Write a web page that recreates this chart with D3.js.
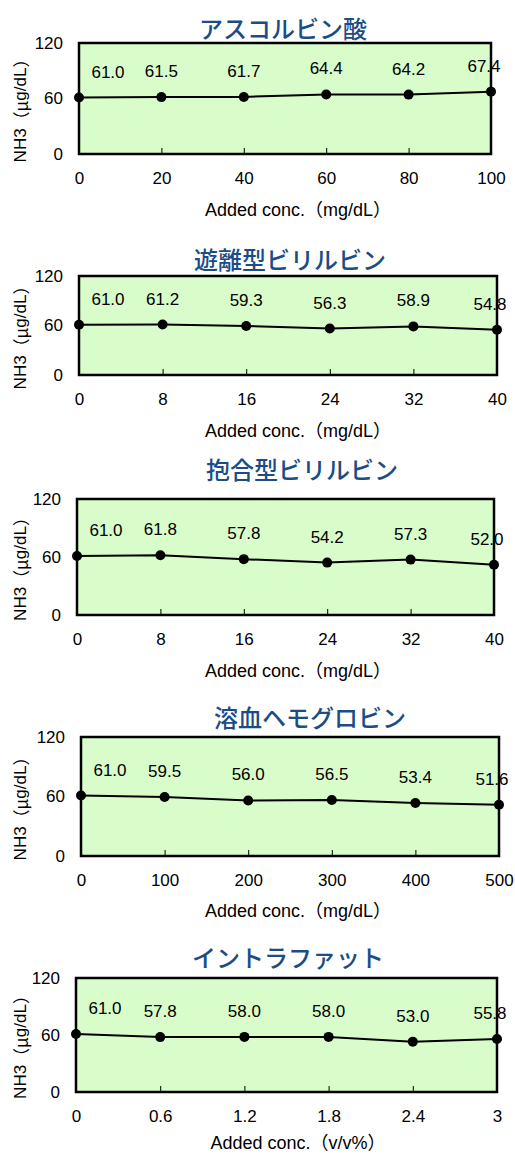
<!DOCTYPE html>
<html>
<head>
<meta charset="utf-8">
<script src="https://cdn.jsdelivr.net/npm/d3@7"></script>
<style>
  html, body { margin: 0; padding: 0; background: #ffffff; }
  svg { display: block; }
  text { font-family: "Liberation Sans", Arial, "Noto Sans CJK JP", sans-serif; }
  .ttl { font-family: "Noto Sans CJK JP", sans-serif; font-weight: 500; }
  .cjk { font-family: "Noto Sans CJK JP", sans-serif; }
</style>
</head>
<body>
<script>
// Interference study: NH3 recovery with added interferents
const titles = ["アスコルビン酸", "遊離型ビリルビン", "抱合型ビリルビン", "溶血ヘモグロビン", "イントラファット"];
const xTitles = ["Added conc.（mg/dL）", "Added conc.（mg/dL）", "Added conc.（mg/dL）", "Added conc.（mg/dL）", "Added conc.（v/v%）"];
const yTitleParts = ["NH3", "（μ", "g/dL", "）"];

const xAscorbic = [0, 20, 40, 60, 80, 100];
const yAscorbic = [61.0, 61.5, 61.7, 64.4, 64.2, 67.4];
const xFreeBili = [0, 8, 16, 24, 32, 40];
const yFreeBili = [61.0, 61.2, 59.3, 56.3, 58.9, 54.8];
const xConjBili = [0, 8, 16, 24, 32, 40];
const yConjBili = [61.0, 61.8, 57.8, 54.2, 57.3, 52.0];
const xHemo = [0, 100, 200, 300, 400, 500];
const yHemo = [61.0, 59.5, 56.0, 56.5, 53.4, 51.6];
const xFat = [0, 0.6, 1.2, 1.8, 2.4, 3];
const yFat = [61.0, 57.8, 58.0, 58.0, 53.0, 55.8];

const xTickLabels = [
  ["0", "20", "40", "60", "80", "100"],
  ["0", "8", "16", "24", "32", "40"],
  ["0", "8", "16", "24", "32", "40"],
  ["0", "100", "200", "300", "400", "500"],
  ["0", "0.6", "1.2", "1.8", "2.4", "3"]
];
const yTicks = [0, 60, 120];
const yMax = 120;

const xs = [xAscorbic, xFreeBili, xConjBili, xHemo, xFat];
const ys = [yAscorbic, yFreeBili, yConjBili, yHemo, yFat];

// panel frames: plot box edges, title position, x-title offset
const frames = [
  { l: 79, r: 491, t: 43,  b: 154, tx: 283, ty: 27,  xo: 56 },
  { l: 79, r: 497, t: 276, b: 375, tx: 290, ty: 258, xo: 56 },
  { l: 77, r: 494, t: 499, b: 615, tx: 302, ty: 468, xo: 56 },
  { l: 81, r: 499, t: 737, b: 856, tx: 310, ty: 716, xo: 55 },
  { l: 76, r: 497, t: 978, b: 1092, tx: 288, ty: 956, xo: 51 }
];

const W = 515, H = 1155;
const svg = d3.select("body").append("svg").attr("width", W).attr("height", H);

const FILL = "#d9fccb";
const TITLE_COLOR = "#1b4c85";

frames.forEach((f, i) => {
  const xv = xs[i], yv = ys[i];
  const x = d3.scaleLinear().domain([0, d3.max(xv)]).range([f.l, f.r]);
  const y = d3.scaleLinear().domain([0, yMax]).range([f.b, f.t]);
  const g = svg.append("g");

  // plot area background
  g.append("rect")
    .attr("x", f.l).attr("y", f.t)
    .attr("width", f.r - f.l).attr("height", f.b - f.t)
    .attr("fill", FILL);

  // x axis: small inward ticks plus labels
  const xAxis = d3.axisBottom(x)
    .tickValues(xv)
    .tickFormat((d, k) => xTickLabels[i][k])
    .tickSizeInner(-6).tickSizeOuter(0).tickPadding(18);
  const gx = g.append("g").attr("transform", `translate(0,${f.b})`).call(xAxis);
  gx.select(".domain").remove();
  gx.selectAll(".tick line").attr("stroke", "#000").attr("stroke-width", 1);
  gx.selectAll(".tick text").attr("font-size", 17).attr("fill", "#000")
    .attr("font-family", "Liberation Sans, Arial, sans-serif");

  // y axis labels
  const yAxis = d3.axisLeft(y).tickValues(yTicks).tickFormat(d3.format("d"))
    .tickSize(0).tickPadding(16);
  const gy = g.append("g").attr("transform", `translate(${f.l},0)`).call(yAxis);
  gy.select(".domain").remove();
  gy.selectAll(".tick text").attr("font-size", 17).attr("fill", "#000")
    .attr("font-family", "Liberation Sans, Arial, sans-serif");

  // value labels above each point
  const n = xv.length;
  g.selectAll("text.val").data(yv).enter().append("text")
    .attr("class", "val")
    .attr("x", (d, k) => x(xv[k]) + (k === 0 ? 29 : (k === n - 1 ? -7 : 0)))
    .attr("y", d => y(d) - 20)
    .attr("text-anchor", "middle")
    .attr("font-size", 17)
    .attr("fill", "#000")
    .text(d => d.toFixed(1));

  // frame
  g.append("rect")
    .attr("x", f.l).attr("y", f.t)
    .attr("width", f.r - f.l).attr("height", f.b - f.t)
    .attr("fill", "none").attr("stroke", "#000").attr("stroke-width", 2.5);

  // data line and markers
  const line = d3.line().x((d, k) => x(xv[k])).y(d => y(d));
  g.append("path").datum(yv).attr("d", line)
    .attr("fill", "none").attr("stroke", "#000").attr("stroke-width", 2);
  g.selectAll("circle").data(yv).enter().append("circle")
    .attr("cx", (d, k) => x(xv[k])).attr("cy", d => y(d)).attr("r", 5)
    .attr("fill", "#000");

  // chart title
  g.append("text").attr("class", "ttl")
    .attr("x", f.tx).attr("y", f.ty)
    .attr("text-anchor", "middle").attr("dominant-baseline", "central")
    .attr("font-size", 24).attr("fill", TITLE_COLOR)
    .text(titles[i]);

  // x axis title
  g.append("text")
    .attr("x", 298).attr("y", f.b + f.xo)
    .attr("text-anchor", "middle").attr("dominant-baseline", "central")
    .attr("font-size", 18).attr("fill", "#000")
    .text(xTitles[i]);

  // y axis title (greek mu and parentheses from the CJK face)
  const yt = g.append("text")
    .attr("transform", `translate(20,${(f.t + f.b) / 2 + 8}) rotate(-90)`)
    .attr("text-anchor", "middle").attr("dominant-baseline", "central")
    .attr("font-size", 17).attr("fill", "#000");
  yTitleParts.forEach((p, k) => {
    yt.append("tspan").attr("class", k % 2 === 1 ? "cjk" : null).text(p);
  });
});
</script>
</body>
</html>
